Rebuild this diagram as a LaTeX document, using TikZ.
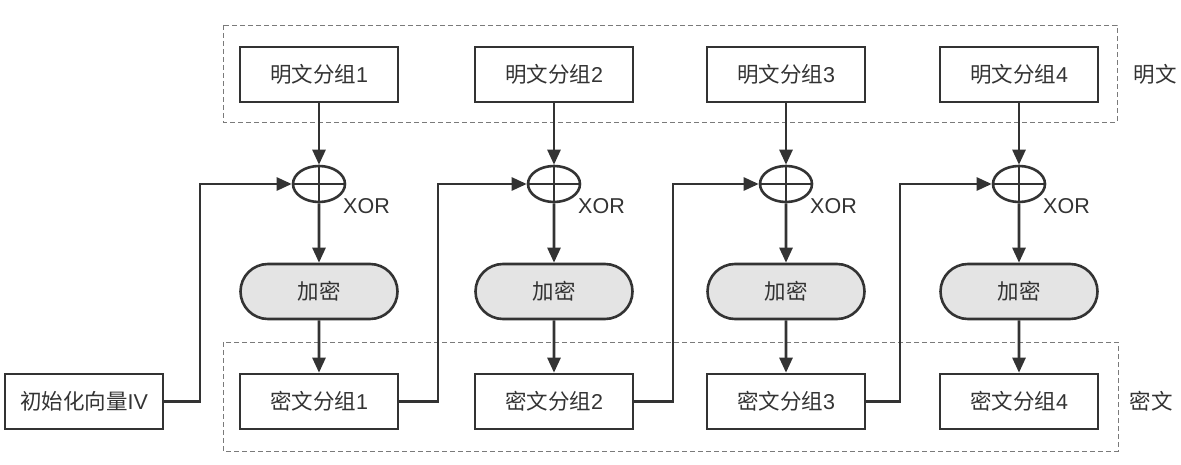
\documentclass[tikz,border=0pt]{standalone}
\usepackage{fontspec}
\setmainfont{Liberation Sans}
\newfontfamily\cjk{Noto Sans CJK SC}
\usetikzlibrary{arrows.meta,shapes.misc,shapes.geometric}
\definecolor{ink}{HTML}{333333}
\definecolor{encfill}{HTML}{E4E4E4}
\definecolor{dashgray}{HTML}{7A7A7A}
\begin{document}
\begin{tikzpicture}[x=1pt,y=-1pt,
  txt/.style={font=\fontsize{21.5}{24}\selectfont, text=ink},
  blockbox/.style={txt, draw=ink, line width=2.6pt, rectangle, minimum width=158pt, minimum height=55pt, inner sep=0pt},
  encbox/.style={txt, draw=ink, line width=2.6pt, rounded rectangle, fill=encfill, minimum width=157pt, minimum height=55pt, inner sep=0pt},
  xornode/.style={draw=ink, line width=2.6pt, ellipse, minimum width=52pt, minimum height=36pt, inner sep=0pt},
  link/.style={draw=ink, line width=2.6pt},
  arr/.style={link, -{Triangle[length=15pt,width=13pt]}},
  dashbox/.style={draw=dashgray, line width=0.9pt, dash pattern=on 5pt off 3pt},
  xorlabel/.style={txt, anchor=west, inner sep=0pt}
]
\useasboundingbox (0,0) rectangle (1181,465);

% dashed groups
\draw[dashbox] (223,25) rectangle (1117,122);
\draw[dashbox] (223,342) rectangle (1118,451);
\node[txt] (lp) at (1155,74) {\cjk 明文};
\node[txt] (lc) at (1151,401) {\cjk 密文};

% IV
\node[blockbox] (iv) at (84,401.5) {{\cjk 初始化向量}IV};

% columns
\foreach \i/\cx/\fx in {1/319/200, 2/554/438, 3/786/673, 4/1019/900} {
  \node[blockbox] (p\i) at (\cx,74.5) {{\cjk 明文分组}\i};
  \node[xornode] (x\i) at (\cx,184) {};
  \node[xorlabel] (xl\i) at (\cx+24,206) {XOR};
  \node[encbox] (e\i) at (\cx,291.5) {\cjk 加密};
  \node[blockbox] (c\i) at (\cx,401.5) {{\cjk 密文分组}\i};
  \coordinate (f\i) at (\fx,184);
  \draw[arr] (p\i) -- (x\i);
  \draw[link] (x\i.north) -- (x\i.south);
  \draw[link] (x\i.west) -- (x\i.east);
  \draw[arr] (x\i) -- (e\i);
  \draw[arr] (e\i) -- (c\i);
}

% feedback chains
\draw[arr] (iv.east) -| (f1) -- (x1.west);
\draw[arr] (c1.east) -| (f2) -- (x2.west);
\draw[arr] (c2.east) -| (f3) -- (x3.west);
\draw[arr] (c3.east) -| (f4) -- (x4.west);
\end{tikzpicture}
\end{document}
